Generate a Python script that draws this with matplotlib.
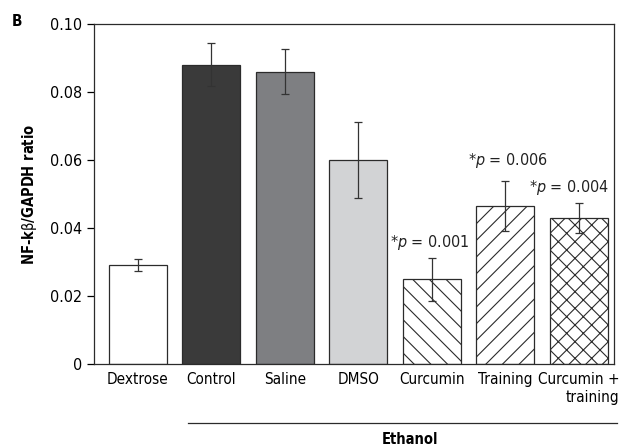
import matplotlib.pyplot as plt

groups = ["Dextrose", "Control", "Saline", "DMSO", "Curcumin", "Training", "Curcumin +\ntraining"]
means = [0.029, 0.088, 0.086, 0.060, 0.025, 0.0465, 0.043]
err_low = [0.0272, 0.0818, 0.0794, 0.0488, 0.0185, 0.0390, 0.0385]
err_high = [0.0310, 0.0944, 0.0926, 0.0712, 0.0312, 0.0538, 0.0474]
p_labels = {4: "0.001", 5: "0.006", 6: "0.004"}
y_ticks = [0, 0.02, 0.04, 0.06, 0.08, 0.10]
y_tick_labels = ["0", "0.02", "0.04", "0.06", "0.08", "0.10"]

fills = ["white", "#3a3a3a", "#7e7f82", "#d2d3d5", "white", "white", "white"]
hatches = [None, None, None, None, "\\\\", "//", "xx"]
# nudges for the p-value labels (x in bar units, y in data units)
p_nudge = {4: (-0.03, 0.0018), 5: (0.03, 0.0032), 6: (-0.14, 0.0018)}

plt.rcParams["font.family"] = ["DejaVu Sans"]
plt.rcParams["font.stretch"] = "condensed"
plt.rcParams["mathtext.fontset"] = "custom"
plt.rcParams["mathtext.it"] = "DejaVu Sans:italic:stretch=condensed"
plt.rcParams["mathtext.rm"] = "DejaVu Sans:stretch=condensed"
plt.rcParams["hatch.linewidth"] = 0.8
plt.rcParams["hatch.color"] = "#222222"

fig = plt.figure(figsize=(6.26, 4.47), dpi=100)
ax = fig.add_axes([0.150, 0.186, 0.831, 0.760])

x = list(range(len(groups)))
for i in x:
    ax.bar(i, means[i], width=0.79, color=fills[i], edgecolor="#2b2b2b", linewidth=0.9,
           hatch=hatches[i], zorder=2)
    ax.errorbar(i, means[i], yerr=[[means[i] - err_low[i]], [err_high[i] - means[i]]],
                fmt="none", ecolor="#333333", elinewidth=0.9, capsize=3, capthick=0.9, zorder=3)

for i, p in p_labels.items():
    dx, dy = p_nudge[i]
    ax.text(i + dx, err_high[i] + dy, r"*$\mathit{p}$ = " + p, ha="center", va="bottom",
            fontsize=11.5, color="#222222")

ax.set_xlim(-0.6, 6.48)
ax.set_ylim(0, 0.10)
ax.set_yticks(y_ticks, y_tick_labels, fontsize=11.5)
ax.set_xticks(x, groups, fontsize=11)
ax.tick_params(axis="x", length=0, pad=6)
ax.tick_params(axis="y", length=5, width=0.9, direction="out")
for s in ax.spines.values():
    s.set_linewidth(0.9)
    s.set_color("#2b2b2b")
last = ax.get_xticklabels()[-1]
last.set_multialignment("right")
last.set_horizontalalignment("center")

ax.set_ylabel(r"NF-k$\mathrm{\beta}$/GAPDH ratio", fontsize=10.5, fontweight="bold", labelpad=8)
fig.text(0.019, 0.952, "B", fontsize=11, fontweight="bold", va="center")

fig.add_artist(plt.Line2D([0.300, 0.985], [0.054, 0.054], color="#2b2b2b", linewidth=0.9))
fig.text(0.655, 0.016, "Ethanol", fontsize=10.5, fontweight="bold", ha="center", va="center")

fig.savefig("out.png", dpi=100)
